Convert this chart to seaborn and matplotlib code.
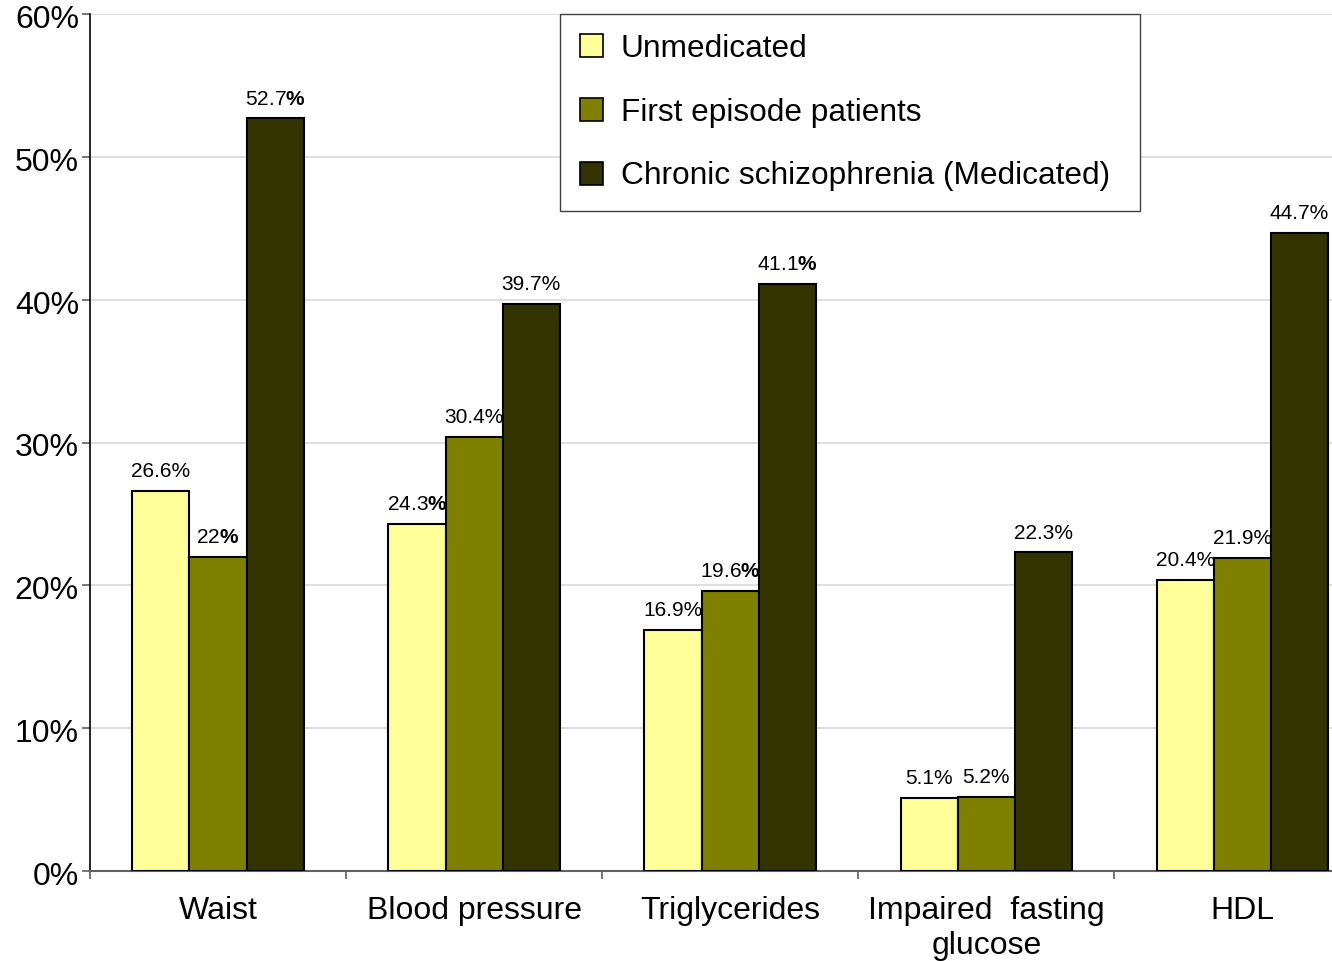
import matplotlib
matplotlib.use("Agg")
import matplotlib.pyplot as plt
import matplotlib.transforms as mtransforms
import seaborn as sns
import pandas as pd
import numpy as np
from matplotlib.patches import Patch
from matplotlib.ticker import FixedLocator

categories = ["Waist", "Blood pressure", "Triglycerides", "Impaired  fasting\nglucose", "HDL"]
series_names = ["Unmedicated", "First episode patients", "Chronic schizophrenia (Medicated)"]
unmedicated = [26.6, 24.3, 16.9, 5.1, 20.4]
first_episode = [22.0, 30.4, 19.6, 5.2, 21.9]
chronic = [52.7, 39.7, 41.1, 22.3, 44.7]
label_unmed = ["26.6%", "24.3$\\mathbf{\\%}$", "16.9%", "5.1%", "20.4%"]
label_first = ["22$\\mathbf{\\%}$", "30.4%", "19.6$\\mathbf{\\%}$", "5.2%", "21.9%"]
label_chronic = ["52.7$\\mathbf{\\%}$", "39.7%", "41.1$\\mathbf{\\%}$", "22.3%", "44.7%"]
yticks = [0, 10, 20, 30, 40, 50, 60]
ytick_labels = ["0%", "10%", "20%", "30%", "40%", "50%", "60%"]
colors = ["#FFFF99", "#808000", "#333300"]

sns.set_style("white")
plt.rcParams["font.family"] = ["Liberation Sans", "DejaVu Sans"]
plt.rcParams["text.color"] = "black"
plt.rcParams["xtick.labelcolor"] = "black"
plt.rcParams["ytick.labelcolor"] = "black"
plt.rcParams["mathtext.fontset"] = "custom"
plt.rcParams["mathtext.rm"] = "Liberation Sans"
plt.rcParams["mathtext.bf"] = "Liberation Sans:bold"
plt.rcParams["mathtext.it"] = "Liberation Sans:italic"

df = pd.DataFrame({
    "category": categories * 3,
    "series": [series_names[0]] * 5 + [series_names[1]] * 5 + [series_names[2]] * 5,
    "value": unmedicated + first_episode + chronic,
})

fig = plt.figure(figsize=(13.32, 9.61), dpi=100)
ax = fig.add_axes([90 / 1332, 1 - 871 / 961, 1242 / 1332, (871 - 14) / 961])

sns.barplot(data=df, x="category", y="value", hue="series", hue_order=series_names,
            order=categories, palette=colors, edgecolor="black", linewidth=1.5,
            width=0.67, saturation=1, ax=ax, legend=False, zorder=3)

ax.set_xlim(-0.5, 4.35)
ax.set_ylim(0, 60)
ax.set_yticks(yticks)
ax.set_yticklabels([])
# y tick labels drawn slightly below their ticks, as in the reference
ylab_trans = mtransforms.blended_transform_factory(ax.transAxes, ax.transData) + \
    mtransforms.ScaledTranslation(-11 / 100, -6 / 100, fig.dpi_scale_trans)
for v, lab in zip(yticks, ytick_labels):
    ax.text(0, v, lab, transform=ylab_trans, ha="right", va="center",
            fontsize=23, color="black", clip_on=False)
ax.yaxis.grid(True, color="#d9d9d9", linewidth=1.2, zorder=0)
ax.set_axisbelow(True)
ax.set_xlabel("")
ax.set_ylabel("")

ax.set_xticks(range(len(categories)))
ax.set_xticklabels(categories, fontsize=23, linespacing=1.2, color="black")
ax.tick_params(axis="x", which="major", length=0, pad=18)
ax.xaxis.set_minor_locator(FixedLocator([-0.5, 0.5, 1.5, 2.5, 3.5]))
ax.tick_params(axis="x", which="minor", length=6, color="#606060", width=1.2, direction="out", bottom=True)
ax.tick_params(axis="y", length=6, color="#606060", width=1.2, direction="out", left=True)

for s in ["top", "right"]:
    ax.spines[s].set_visible(False)
ax.spines["left"].set_color("black")
ax.spines["left"].set_linewidth(1.2)
ax.spines["bottom"].set_color("#606060")
ax.spines["bottom"].set_linewidth(1.5)

for cont, labs in zip(ax.containers, [label_unmed, label_first, label_chronic]):
    ax.bar_label(cont, labels=labs, padding=7, fontsize=15, color="black")

handles = [Patch(facecolor=c, edgecolor="black", linewidth=1.2) for c in colors]
leg = ax.legend(handles, series_names, loc="upper left",
                bbox_to_anchor=(470 / 1242, 0, 580 / 1242, 1.0), mode="expand",
                fontsize=22.8, frameon=True, fancybox=False, edgecolor="#404040",
                framealpha=1, labelspacing=1.07, handlelength=0.75, handleheight=0.75,
                handletextpad=0.55, borderpad=0.62, borderaxespad=0)
leg.get_frame().set_linewidth(1.0)
for t in leg.get_texts():
    t.set_color("black")

fig.savefig("out.png", dpi=100)
